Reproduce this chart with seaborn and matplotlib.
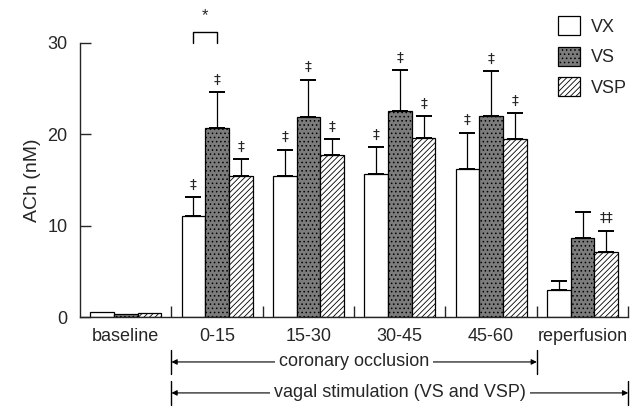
import pandas as pd
import matplotlib
matplotlib.use('Agg')
import matplotlib.pyplot as plt
import matplotlib.patches as mpatches
import matplotlib.transforms as mtrans
import seaborn as sns

# data
groups = ['baseline', '0-15', '15-30', '30-45', '45-60', 'reperfusion']
series = ['VX', 'VS', 'VSP']
vx = [0.6, 11.1, 15.4, 15.7, 16.2, 3.0]
vs = [0.35, 20.7, 21.9, 22.6, 22.0, 8.7]
vsp = [0.45, 15.4, 17.7, 19.6, 19.5, 7.15]
vx_err = [0, 2.0, 2.9, 2.9, 4.0, 0.9]
vs_err = [0, 3.9, 4.1, 4.4, 4.9, 2.8]
vsp_err = [0, 1.9, 1.8, 2.4, 2.8, 2.3]
vx_mark = ['', '‡', '‡', '‡', '‡', '']
vs_mark = ['', '‡', '‡', '‡', '‡', '']
vsp_mark = ['', '‡', '‡', '‡', '‡', '‡‡']

sns.set_style('ticks')
plt.rcParams['font.family'] = ['Liberation Sans', 'DejaVu Sans']
plt.rcParams['hatch.linewidth'] = 0.6

df = pd.DataFrame({
    'group': groups * 3,
    'series': [s for s in series for _ in groups],
    'ach': vx + vs + vsp,
})

fig = plt.figure(figsize=(6.41, 4.13), dpi=100)
ax = fig.add_axes([0.125, 0.2324, 0.855, 0.6635])

sns.barplot(data=df, x='group', y='ach', hue='series', order=groups,
            hue_order=series, width=0.78, legend=False, ax=ax,
            errorbar=None, saturation=1)

styles = {
    'VX': dict(facecolor='white', hatch=None),
    'VS': dict(facecolor='#7c7c7c', hatch='....'),
    'VSP': dict(facecolor='white', hatch='//////'),
}
errs = [vx_err, vs_err, vsp_err]
marks = [vx_mark, vs_mark, vsp_mark]
bar_conts = list(ax.containers)
for k, cont in enumerate(bar_conts):
    st = styles[series[k]]
    xs, tops = [], []
    for bar in cont:
        bar.set_facecolor(st['facecolor'])
        bar.set_edgecolor('black')
        bar.set_linewidth(0.9)
        if st['hatch']:
            bar.set_hatch(st['hatch'])
        xs.append(bar.get_x() + bar.get_width() / 2)
        tops.append(bar.get_height())
    for i in range(len(xs)):
        if errs[k][i] > 0:
            ax.errorbar(xs[i], tops[i], yerr=[[0], [errs[k][i]]], fmt='none',
                        ecolor='black', elinewidth=0.9, capsize=6, capthick=1.4)
        if marks[k][i]:
            ax.text(xs[i], tops[i] + errs[k][i] + 0.6, marks[k][i],
                    ha='center', va='bottom', fontsize=10,
                    family=['DejaVu Sans'])

# significance bracket between VX and VS at 0-15
x_vx = bar_conts[0][1].get_x() + bar_conts[0][1].get_width() / 2
x_vs = bar_conts[1][1].get_x() + bar_conts[1][1].get_width() / 2
ax.plot([x_vx, x_vx, x_vs, x_vs], [30.0, 31.2, 31.2, 30.0], color='black',
        lw=1.0, clip_on=False)
ax.text((x_vx + x_vs) / 2, 32.2, '*', ha='center', va='bottom', fontsize=12,
        clip_on=False)

ax.set_ylim(0, 30)
ax.set_xlim(-0.5, 5.5)
ax.set_yticks([0, 10, 20, 30])
ax.set_ylabel('ACh (nM)', fontsize=14, labelpad=5)
ax.set_xlabel('')
ax.tick_params(axis='y', direction='in', length=8, width=1, labelsize=13,
               pad=9)
ax.tick_params(axis='x', which='major', length=0, labelsize=13, pad=8)
ax.set_xticks([i + 0.5 for i in range(len(groups))], minor=True)
ax.tick_params(axis='x', which='minor', direction='in', length=8, width=1)
sns.despine(ax=ax)
ax.spines['left'].set_linewidth(1)
ax.spines['bottom'].set_linewidth(1)

# legend
handles = [mpatches.Patch(facecolor=styles[s]['facecolor'], edgecolor='black',
                          hatch=styles[s]['hatch'], lw=0.9) for s in series]
fig.legend(handles, series, loc='upper left', bbox_to_anchor=(0.845, 1.0),
           frameon=False, fontsize=13, handlelength=1.25, handleheight=1.25,
           labelspacing=0.6, handletextpad=0.6)

# period arrows under the axis
trans = mtrans.blended_transform_factory(ax.transData, ax.transAxes)
spans = [(0.5, 4.5, -0.164, 'coronary occlusion'),
         (0.5, 5.5, -0.277, 'vagal stimulation (VS and VSP)')]
for x0, x1, yy, label in spans:
    ax.annotate('', xy=(x0, yy), xytext=(x1, yy), xycoords=trans,
                textcoords=trans,
                arrowprops=dict(arrowstyle='<|-|>', color='black', lw=0.8,
                                shrinkA=0, shrinkB=0, mutation_scale=8),
                annotation_clip=False)
    for xe in (x0, x1):
        ax.plot([xe, xe], [yy - 0.045, yy + 0.045], transform=trans,
                color='black', lw=1.0, clip_on=False)
    ax.text((x0 + x1) / 2, yy, label, transform=trans, ha='center',
            va='center', fontsize=13,
            bbox=dict(facecolor='white', edgecolor='none', pad=3))

fig.savefig('out.png', dpi=100)
